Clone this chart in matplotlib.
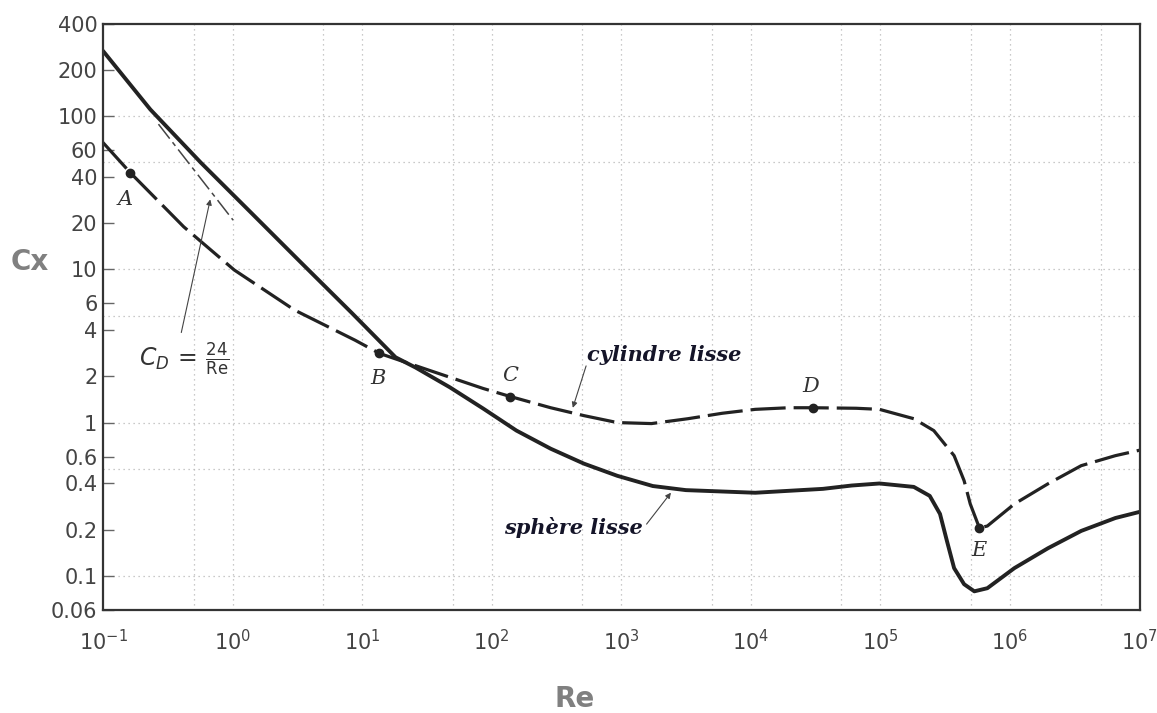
import matplotlib.pyplot as plt

# values (Re, Cx)
sphere_re = [0.1, 0.232, 0.569, 1.39, 3.41, 8.36, 18.1, 25.8, 47.5, 85.9, 155, 285, 515,
             931, 1750, 3150, 10800, 36000, 60000, 98200, 180700, 240000, 288000,
             326000, 370000, 442000, 530000, 668000, 1.08e6, 1.96e6, 3.54e6, 6.5e6, 1e7]
sphere_cx = [268, 111, 49.9, 23.5, 11.0, 5.18, 2.67, 2.29, 1.70, 1.235, 0.887, 0.675, 0.539,
             0.449, 0.385, 0.362, 0.348, 0.369, 0.388, 0.40, 0.38, 0.332, 0.253,
             0.168, 0.112, 0.0879, 0.079, 0.0828, 0.112, 0.151, 0.196, 0.238, 0.261]

cyl_re = [0.1, 0.162, 0.42, 1.03, 3.01, 8.83, 13.6, 33.2, 85.9, 139, 285, 515, 931, 1710,
          3270, 6000, 10800, 19600, 30100, 65000, 98200, 180700, 258000, 370000, 442000,
          493000, 580000, 668000, 1.08e6, 1.96e6, 3.54e6, 6.5e6, 1e7]
cyl_cx = [67.5, 43, 19.0, 9.93, 5.43, 3.45, 2.83, 2.19, 1.67, 1.48, 1.25, 1.11, 1.0, 0.985,
          1.06, 1.15, 1.22, 1.25, 1.25, 1.24, 1.22, 1.06, 0.886, 0.608, 0.417,
          0.294, 0.205, 0.211, 0.294, 0.398, 0.523, 0.608, 0.66]

# C_D = 24/Re (Stokes) segment
stokes_re = [0.268, 1.01]
stokes_cx = [89, 21]

pt_names = ["A", "B", "C", "D", "E"]
pt_re = [0.162, 13.6, 139, 30100, 580000]
pt_cx = [43, 2.83, 1.48, 1.25, 0.205]
lbl_re = [0.148, 13.3, 139, 29000, 580000]
lbl_cx = [28.6, 1.94, 2.03, 1.72, 0.145]

yticks = [400, 200, 100, 60, 40, 20, 10, 6, 4, 2, 1, 0.6, 0.4, 0.2, 0.1, 0.06]
ytick_labels = ["400", "200", "100", "60", "40", "20", "10", "6", "4", "2", "1",
                "0.6", "0.4", "0.2", "0.1", "0.06"]
xticks = [1e-1, 1e0, 1e1, 1e2, 1e3, 1e4, 1e5, 1e6, 1e7]
xtick_labels = ["$10^{-1}$", "$10^{0}$", "$10^{1}$", "$10^{2}$", "$10^{3}$",
                "$10^{4}$", "$10^{5}$", "$10^{6}$", "$10^{7}$"]

fig = plt.figure(figsize=(11.57, 7.13), dpi=100)
ax = fig.add_axes([0.089, 0.145, 0.896, 0.821])
ax.set_xscale("log")
ax.set_yscale("log")
ax.set_xlim(1e-1, 1e7)
ax.set_ylim(0.06, 400)

# sparse dotted grid (1 and 5 of every decade)
for d in range(-1, 7):
    for m in (1, 5):
        v = m * 10.0 ** d
        if 1e-1 < v < 1e7:
            ax.axvline(v, color="#b8b8b8", ls=(0, (1, 3)), lw=0.9, zorder=0)
for d in range(-2, 3):
    for m in (1, 5):
        v = m * 10.0 ** d
        if 0.06 < v < 400:
            ax.axhline(v, color="#b8b8b8", ls=(0, (1, 3)), lw=0.9, zorder=0)

ink = "#222222"
ax.plot(sphere_re, sphere_cx, color=ink, lw=2.8, solid_capstyle="round",
        solid_joinstyle="round")
ax.plot(cyl_re, cyl_cx, color=ink, lw=2.3, ls=(0, (11, 2.5)))
ax.plot(stokes_re, stokes_cx, color="#444444", lw=1.1, ls=(0, (12, 3, 3, 3)))

ax.plot(pt_re, pt_cx, "o", color=ink, ms=6, ls="none")
for n, x, y in zip(pt_names, lbl_re, lbl_cx):
    ax.text(x, y, n, ha="center", va="center", fontsize=15, style="italic",
            family="DejaVu Serif", color="#333333")

ax.annotate("", xy=(0.68, 29.9), xytext=(0.398, 3.72),
            arrowprops=dict(arrowstyle="-|>", color="#444444", lw=0.8, mutation_scale=8))
ax.text(0.42, 2.6, r"$C_D\,=\,\frac{24}{\mathrm{Re}}$", ha="center", va="center",
        fontsize=17, color="#333333")

serif_b = dict(family="DejaVu Serif", style="italic", weight="bold", fontsize=15,
               color="#141428")
ax.text(2150, 2.75, "cylindre lisse", ha="center", va="center", **serif_b)
ax.annotate("", xy=(416, 1.2), xytext=(543, 2.44),
            arrowprops=dict(arrowstyle="-|>", color="#444444", lw=0.8, mutation_scale=8))
ax.text(430, 0.205, "sphère lisse", ha="center", va="center", **serif_b)
ax.annotate("", xy=(2490, 0.36), xytext=(1520, 0.21),
            arrowprops=dict(arrowstyle="-|>", color="#444444", lw=0.8, mutation_scale=8))

ax.set_yticks(yticks)
ax.set_yticklabels(ytick_labels)
ax.set_xticks(xticks)
ax.set_xticklabels(xtick_labels)
ax.minorticks_off()
ax.tick_params(axis="y", direction="in", length=8, width=1, color="#666666",
               labelsize=15, labelcolor="#444444", pad=4)
ax.tick_params(axis="x", length=0, labelsize=15, labelcolor="#444444", pad=14)
for s in ax.spines.values():
    s.set_color("#333333")
    s.set_linewidth(1.6)

fig.text(0.026, 0.633, "Cx", fontsize=20, weight="bold", color="#808080",
         ha="center", va="center")
fig.text(0.497, 0.02, "Re", fontsize=20, weight="bold", color="#808080",
         ha="center", va="center")

fig.savefig("out.png", dpi=100)
